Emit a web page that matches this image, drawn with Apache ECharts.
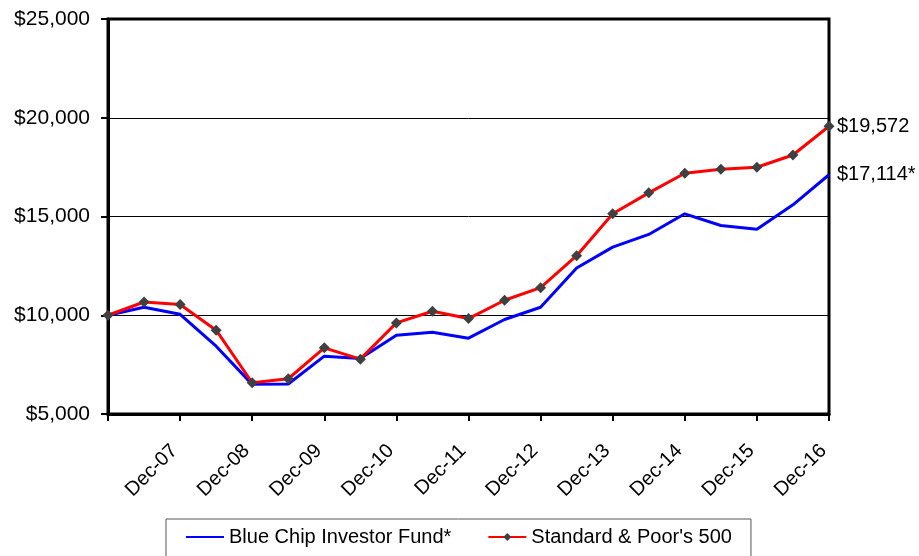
<!DOCTYPE html>
<html>
<head>
<meta charset="utf-8">
<script src="https://cdn.jsdelivr.net/npm/echarts@6/dist/echarts.min.js"></script>
<style>
    html, body { margin: 0; padding: 0; background: #fff; }
    #main { width: 919px; height: 556px; }
</style>
</head>
<body>
<div id="main"></div>
<script>
// semi-annual periods, Dec-06 .. Dec-16
var periods = ['Dec-06', 'Jun-07', 'Dec-07', 'Jun-08', 'Dec-08', 'Jun-09', 'Dec-09',
    'Jun-10', 'Dec-10', 'Jun-11', 'Dec-11', 'Jun-12', 'Dec-12', 'Jun-13', 'Dec-13',
    'Jun-14', 'Dec-14', 'Jun-15', 'Dec-15', 'Jun-16', 'Dec-16'];

var blueChip = [10000, 10404, 10050, 8434, 6500, 6520, 7929, 7813, 8990, 9141,
    8838, 9783, 10404, 12389, 13449, 14091, 15136, 14545, 14359, 15589, 17114];

var sp500 = [10000, 10672, 10540, 9242, 6582, 6785, 8350, 7778, 9611, 10202,
    9833, 10758, 11398, 13015, 15136, 16197, 17189, 17391, 17492, 18116, 19572];

var seriesNames = ['Blue Chip Investor Fund*', "Standard & Poor's 500"];
var endLabels = ['$17,114*', '$19,572'];

var yTicks = { min: 5000, max: 25000, step: 5000 };

var myChart = echarts.init(document.getElementById('main'));

var fontFam = '"Liberation Sans", Arial, sans-serif';
var fs = 20;

var option = {
    backgroundColor: '#fff',
    animation: false,
    textStyle: { fontFamily: fontFam },
    grid: {
        left: 108,
        right: 90,
        top: 19,
        bottom: 142,
        show: true,
        borderColor: '#000',
        borderWidth: 3
    },
    legend: {
        top: 519,
        left: 166,
        padding: [8, 19, 20, 19],
        itemGap: 36,
        itemWidth: 38,
        itemHeight: 10,
        borderColor: '#555',
        borderWidth: 1,
        textStyle: { fontSize: fs, color: '#000', fontFamily: fontFam },
        data: [
            { name: seriesNames[0], itemStyle: { opacity: 0 } },
            { name: seriesNames[1] }
        ]
    },
    xAxis: {
        type: 'category',
        data: periods,
        boundaryGap: false,
        axisLine: { lineStyle: { color: '#000', width: 3 } },
        axisTick: {
            interval: 1,
            length: 7,
            lineStyle: { color: '#000', width: 2 }
        },
        axisLabel: {
            interval: 0,
            formatter: function (v, i) {
                return (i % 2 === 0 && i > 0) ? v : '';
            },
            rotate: 45,
            margin: 28,
            padding: [0, 8, 0, 0],
            fontSize: fs,
            color: '#000',
            fontFamily: fontFam
        }
    },
    yAxis: {
        type: 'value',
        min: yTicks.min,
        max: yTicks.max,
        interval: yTicks.step,
        axisLine: { show: true, lineStyle: { color: '#000', width: 3 } },
        axisTick: { show: true, length: 7, lineStyle: { color: '#000', width: 2 } },
        splitLine: { lineStyle: { color: '#000', width: 1 } },
        axisLabel: {
            formatter: function (v) {
                return '$' + v.toLocaleString('en-US');
            },
            margin: 18,
            fontSize: 21,
            color: '#000',
            fontFamily: fontFam
        }
    },
    series: [
        {
            name: seriesNames[0],
            type: 'line',
            data: blueChip,
            symbol: 'none',
            itemStyle: { color: '#0000ff' },
            lineStyle: { color: '#0000ff', width: 3 },
            endLabel: {
                show: true,
                formatter: endLabels[0],
                distance: 8,
                fontSize: fs,
                color: '#000',
                fontFamily: fontFam
            },
            z: 2
        },
        {
            name: seriesNames[1],
            type: 'line',
            data: sp500,
            symbol: 'diamond',
            symbolSize: 11,
            itemStyle: { color: '#404040' },
            lineStyle: { color: '#ff0000', width: 3 },
            endLabel: {
                show: true,
                formatter: endLabels[1],
                distance: 8,
                fontSize: fs,
                color: '#000',
                fontFamily: fontFam
            },
            z: 3
        }
    ]
};

myChart.setOption(option, true);
</script>
</body>
</html>
